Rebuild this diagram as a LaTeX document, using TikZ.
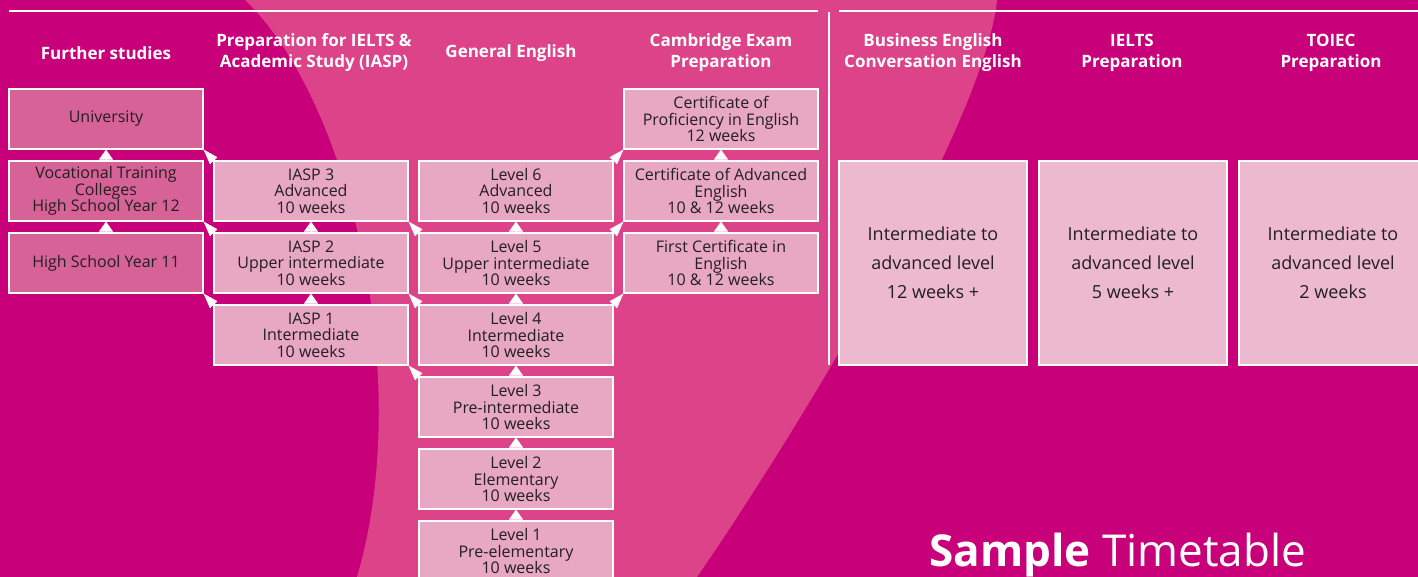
\documentclass[tikz,border=0pt]{standalone}
\usepackage{fontspec}
\setmainfont{Open Sans}
\usetikzlibrary{arrows.meta}

\definecolor{bgmag}{HTML}{C8007A}
\definecolor{bandpink}{HTML}{DD4389}
\definecolor{furtherfill}{HTML}{D66298}
\definecolor{levelfill}{HTML}{E8A7C3}
\definecolor{widefill}{HTML}{EDB9CE}
\definecolor{boxtext}{HTML}{231F20}

\tikzset{
  coursebox/.style={draw=white, line width=1.2pt, fill=levelfill, text=boxtext,
    minimum width=194pt, minimum height=60pt, inner sep=0pt, align=center,
    font=\fontsize{16}{16.5}\selectfont},
  furtherbox/.style={coursebox, fill=furtherfill},
  widebox/.style={coursebox, fill=widefill, minimum width=188pt, minimum height=204pt,
    font=\fontsize{18}{29}\selectfont},
  head/.style={text=white, align=center, font=\bfseries\fontsize{17}{21}\selectfont},
  upto/.style={draw=white, line width=0.4pt, -{Triangle[length=10pt,width=14pt]}},
  diagto/.style={draw=white, line width=0.4pt, -{Triangle[length=15pt,width=10pt]}},
}

\begin{document}
\begin{tikzpicture}[x=1pt, y=-1pt]
			\useasboundingbox (0,0) rectangle (1418,577);
			\fill[bgmag] (0,0) rectangle (1418,577);
			% lighter swoosh behind the middle columns
			\fill[bandpink] (245,0) .. controls (350,100) and (415,380) .. (357,577)
			  -- (697,577) .. controls (805,420) and (985,120) .. (997,0) -- cycle;
			\draw[white, line width=1.2pt] (9,11) -- (818,11);
			\draw[white, line width=1.2pt] (839,11) -- (1418,11);
			\draw[white, line width=1.2pt] (829,12) -- (829,365);

			\node[head] (hfurther) at (106,53) {Further studies};
			\node[head] (hiasp) at (314,53) {Preparation for IELTS \&\\Academic Study (IASP)};
			\node[head] (hgeneral) at (511,53) {General English};
			\node[head] (hcambridge) at (721,53) {Cambridge Exam\\Preparation};
			\node[head] (hbusiness) at (933,53) {Business English\\Conversation English};
			\node[head] (hielts) at (1132,53) {IELTS\\Preparation};
			\node[head] (htoiec) at (1331,53) {TOIEC\\Preparation};

			\node[furtherbox] (uni) at (106,119) {University};
			\node[furtherbox] (voc) at (106,191) {Vocational Training\\Colleges\\High School Year 12};
			\node[furtherbox] (hs11) at (106,263) {High School Year 11};

			\node[coursebox] (iasp3) at (311,191) {IASP 3\\Advanced\\10 weeks};
			\node[coursebox] (iasp2) at (311,263) {IASP 2\\Upper intermediate\\10 weeks};
			\node[coursebox] (iasp1) at (311,335) {IASP 1\\Intermediate\\10 weeks};

			\node[coursebox] (lev6) at (516,191) {Level 6\\Advanced\\10 weeks};
			\node[coursebox] (lev5) at (516,263) {Level 5\\Upper intermediate\\10 weeks};
			\node[coursebox] (lev4) at (516,335) {Level 4\\Intermediate\\10 weeks};
			\node[coursebox] (lev3) at (516,407) {Level 3\\Pre-intermediate\\10 weeks};
			\node[coursebox] (lev2) at (516,479) {Level 2\\Elementary\\10 weeks};
			\node[coursebox] (lev1) at (516,551) {Level 1\\Pre-elementary\\10 weeks};

			\node[coursebox] (cpe) at (721,119) {Certificate of\\Proficiency in English\\12 weeks};
			\node[coursebox] (cae) at (721,191) {Certificate of Advanced\\English\\10 \& 12 weeks};
			\node[coursebox] (fce) at (721,263) {First Certificate in\\English\\10 \& 12 weeks};

			\node[widebox] (business) at (933,263) {Intermediate to\\advanced level\\12 weeks +};
			\node[widebox] (ielts) at (1133,263) {Intermediate to\\advanced level\\5 weeks +};
			\node[widebox] (toiec) at (1333,263) {Intermediate to\\advanced level\\2 weeks};

			\node[anchor=base west, text=white, font=\fontsize{44}{44}\selectfont]
			  (title) at (926,566) {\textbf{Sample} Timetable};

			\draw
			(voc.north) edge[upto] (uni.south)
			(hs11.north) edge[upto] (voc.south)
			(iasp2.north) edge[upto] (iasp3.south)
			(iasp1.north) edge[upto] (iasp2.south)
			(lev5.north) edge[upto] (lev6.south)
			(lev4.north) edge[upto] (lev5.south)
			(lev3.north) edge[upto] (lev4.south)
			(lev2.north) edge[upto] (lev3.south)
			(lev1.north) edge[upto] (lev2.south)
			(cae.north) edge[upto] (cpe.south)
			(fce.north) edge[upto] (cae.south)
			(iasp3.north west) edge[diagto] (uni.south east)
			(iasp2.north west) edge[diagto] (voc.south east)
			(iasp1.north west) edge[diagto] (hs11.south east)
			(lev5.north west) edge[diagto] (iasp3.south east)
			(lev4.north west) edge[diagto] (iasp2.south east)
			(lev3.north west) edge[diagto] (iasp1.south east)
			(lev6.north east) edge[diagto] (cpe.south west)
			(lev5.north east) edge[diagto] (cae.south west)
			(lev4.north east) edge[diagto] (fce.south west)
			;
		\end{tikzpicture}
\end{document}
